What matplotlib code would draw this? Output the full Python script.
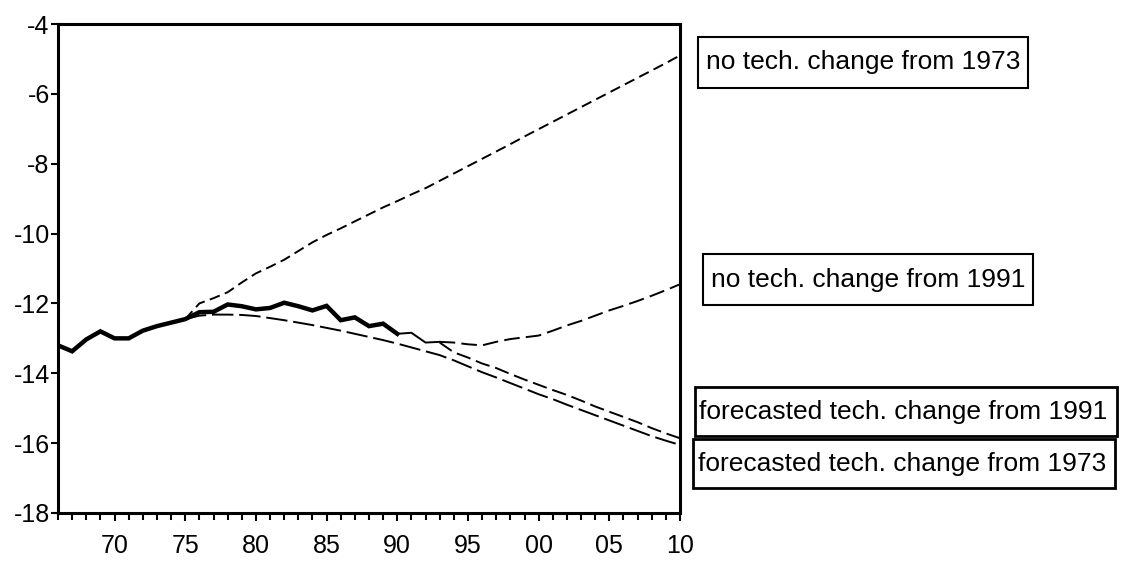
import matplotlib.pyplot as plt
from matplotlib import font_manager
from matplotlib.patches import Rectangle
from matplotlib.ticker import MultipleLocator, FixedLocator

plt.rcParams['font.family'] = ['Liberation Sans', 'DejaVu Sans']
plt.rcParams['axes.unicode_minus'] = False

# actual series (thick line)
actual_years = list(range(1966, 1991))
actual = [-13.2, -13.37, -13.03, -12.8, -13.0, -13.0, -12.78, -12.65, -12.55, -12.45,
          -12.25, -12.24, -12.03, -12.08, -12.17, -12.13, -11.98, -12.08, -12.2, -12.07,
          -12.48, -12.4, -12.65, -12.58, -12.87]

# thin bridge 1990-1993
bridge_years = [1990, 1991, 1992, 1993]
bridge = [-12.87, -12.84, -13.12, -13.1]

# no tech. change from 1973
nt73_years = list(range(1975, 2011))
nt73 = [-12.45, -12.0, -11.85, -11.68, -11.4, -11.14, -10.95, -10.75, -10.5, -10.25,
        -10.04, -9.85, -9.65, -9.45, -9.25, -9.07, -8.88, -8.7, -8.49, -8.28,
        -8.07, -7.86, -7.65, -7.44, -7.22, -7.01, -6.8, -6.59, -6.38, -6.17,
        -5.96, -5.75, -5.54, -5.33, -5.12, -4.9]

# forecasted tech. change from 1973
fc73_years = list(range(1975, 2011))
fc73 = [-12.45, -12.35, -12.32, -12.32, -12.33, -12.36, -12.42, -12.48, -12.55, -12.62,
        -12.7, -12.78, -12.87, -12.96, -13.05, -13.15, -13.26, -13.37, -13.48, -13.63,
        -13.8, -13.97, -14.12, -14.28, -14.44, -14.6, -14.74, -14.9, -15.05, -15.2,
        -15.35, -15.5, -15.65, -15.8, -15.93, -16.05]

# no tech. change from 1991
nt91_years = list(range(1993, 2011))
nt91 = [-13.1, -13.12, -13.17, -13.2, -13.1, -13.02, -12.97, -12.92, -12.78, -12.63,
        -12.5, -12.35, -12.2, -12.07, -11.93, -11.78, -11.62, -11.45]

# forecasted tech. change from 1991
fc91_years = list(range(1993, 2011))
fc91 = [-13.12, -13.4, -13.55, -13.72, -13.85, -14.02, -14.18, -14.33, -14.48, -14.62,
        -14.78, -14.95, -15.1, -15.25, -15.4, -15.57, -15.72, -15.86]

xtick_pos = [1970, 1975, 1980, 1985, 1990, 1995, 2000, 2005, 2010]
xtick_lab = ['70', '75', '80', '85', '90', '95', '00', '05', '10']

labels = ['no tech. change from 1973', 'no tech. change from 1991',
          'forecasted tech. change from 1991', 'forecasted tech. change from 1973']

W, H = 1123, 561
fig = plt.figure(figsize=(W / 100, H / 100), dpi=100)
ax = fig.add_axes([58 / W, 1 - 513 / H, 622 / W, 489 / H])

ax.plot(nt73_years, nt73, color='black', lw=1.4, dashes=(5.5, 2.8))
ax.plot(fc73_years, fc73, color='black', lw=1.4, dashes=(11, 3))
ax.plot(nt91_years, nt91, color='black', lw=1.4, dashes=(8, 3.2))
ax.plot(fc91_years, fc91, color='black', lw=1.4, dashes=(7.5, 3))
ax.plot(bridge_years, bridge, color='black', lw=1.4)
ax.plot(actual_years, actual, color='black', lw=3.2, solid_joinstyle='miter')

ax.set_xlim(1966, 2010)
ax.set_ylim(-18, -4)
ax.yaxis.set_major_locator(MultipleLocator(2))
ax.xaxis.set_major_locator(FixedLocator(xtick_pos))
ax.set_xticklabels(xtick_lab)
ax.xaxis.set_minor_locator(MultipleLocator(1))

ax.tick_params(axis='x', which='major', direction='out', length=6, width=1.5,
               labelsize=18, pad=9)
ax.tick_params(axis='x', which='minor', direction='out', length=5, width=1.5)
ax.tick_params(axis='y', which='major', direction='out', length=5, width=1.5,
               labelsize=18, pad=1)
for s in ax.spines.values():
    s.set_linewidth(2.2)

# boxed labels: narrow font if installed (reference text is tall and narrow)
names = {f.name for f in font_manager.fontManager.ttflist}
if 'Liberation Sans Narrow' in names:
    lab_font, lab_size = 'Liberation Sans Narrow', 23
else:
    lab_font, lab_size = 'Liberation Sans', 19

# (box left, box top, box right, box bottom, text left, border width) in pixels
boxes = [(698, 37, 1028, 88, 706, 1.5),
         (703, 254, 1033, 305, 711, 1.5),
         (695, 387, 1117, 436, 699, 2.0),
         (693, 439, 1115, 488, 698, 2.0)]
for txt, (x0, y0, x1, y1, tx, bw) in zip(labels, boxes):
    fig.patches.append(Rectangle((x0 / W, 1 - y1 / H), (x1 - x0) / W, (y1 - y0) / H,
                                 transform=fig.transFigure, facecolor='white',
                                 edgecolor='black', lw=bw))
    fig.text(tx / W, 1 - (y0 + y1) / 2 / H, txt, fontsize=lab_size, family=lab_font,
             ha='left', va='center')

fig.savefig('out.png', dpi=100)
